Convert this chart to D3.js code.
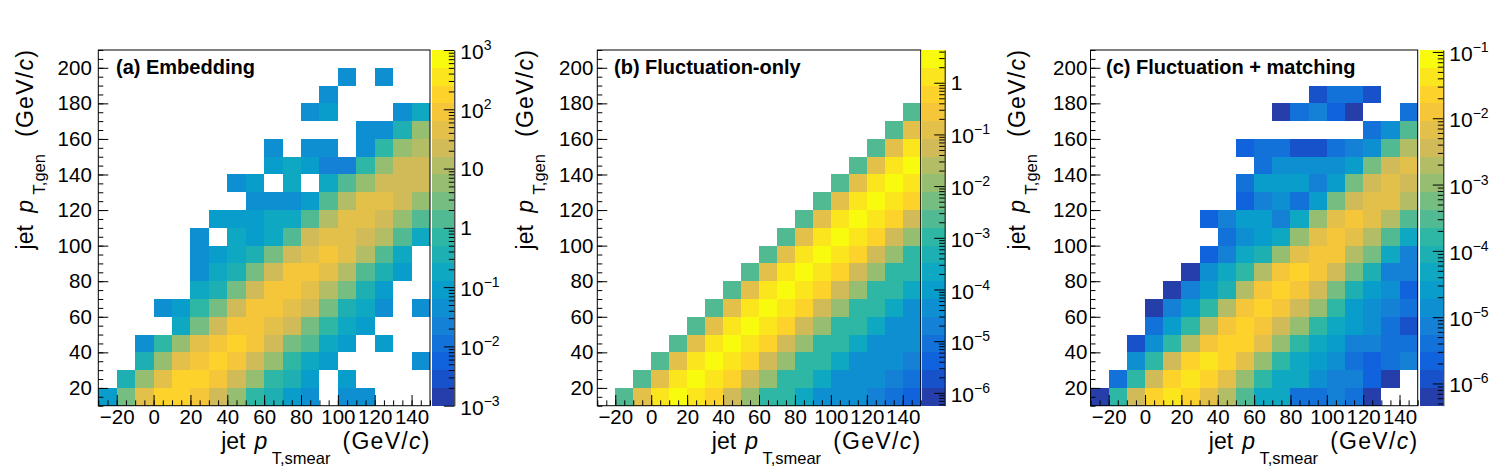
<!DOCTYPE html>
<html>
<head>
<meta charset="utf-8">
<script src="https://cdn.jsdelivr.net/npm/d3@7/dist/d3.min.js"></script>
<style>
html,body{margin:0;padding:0;background:#fff;}
svg{display:block;}
text{font-family:"Liberation Sans",Arial,Helvetica,sans-serif;fill:#000;}
</style>
</head>
<body>
<svg id="chart" width="1498" height="476"></svg>
<script>
// ---------- data ----------
const binWidth = 10;
// lower edges of x bins (jet pT,smear) and y bins (jet pT,gen), rows listed top -> bottom
const xLow = [-30,-20,-10,0,10,20,30,40,50,60,70,80,90,100,110,120,130,140];
const yLow = [200,190,180,170,160,150,140,130,120,110,100,90,80,70,60,50,40,30,20,10];
const xTickLabels = [-20,0,20,40,60,80,100,120,140];
const yTickLabels = [20,40,60,80,100,120,140,160,180,200];
const panelTitles = ["(a) Embedding","(b) Fluctuation-only","(c) Fluctuation + matching"];
const zRangeA = [1e-3, 1e3];
const zRangeB = [5.65e-7, 4.3];
const zRangeC = [4.62e-7, 0.107];
const zTicksA = [1e-3,1e-2,1e-1,1,10,1e2,1e3];
const zTicksB = [1e-6,1e-5,1e-4,1e-3,1e-2,1e-1,1];
const zTicksC = [1e-6,1e-5,1e-4,1e-3,1e-2,1e-1];

const embedding = [
 [0,0,0,0,0,0,0,0,0,0,0,0,0,0,0,0,0,0],
 [0,0,0,0,0,0,0,0,0,0,0,0,0,0.045,0,0.045,0,0],
 [0,0,0,0,0,0,0,0,0,0,0,0,0.045,0,0,0,0,0],
 [0,0,0,0,0,0,0,0,0,0,0,0.045,0.089,0,0,0,0.045,0.18],
 [0,0,0,0,0,0,0,0,0,0,0,0,0,0,0.045,0.045,0.35,5.6],
 [0,0,0,0,0,0,0,0,0,0.045,0,0.045,0.045,0,0.045,0.71,5.6,11],
 [0,0,0,0,0,0,0,0,0,0.089,0.18,0.089,0.022,0.022,0.71,5.6,22,22],
 [0,0,0,0,0,0,0,0.045,0.089,0,0.18,0,0.18,1.4,5.6,22,22,22],
 [0,0,0,0,0,0,0,0,0.045,0.045,0.045,0.089,1.4,11,45,45,22,5.6],
 [0,0,0,0,0,0,0.089,0.089,0.089,0.18,0.18,1.4,11,45,45,22,5.6,1.4],
 [0,0,0,0,0,0.045,0,0.18,0.089,0.18,1.4,22,45,45,22,11,1.4,0.18],
 [0,0,0,0,0,0.045,0.089,0.18,0.35,2.8,22,45,89,45,11,1.4,0.18,0],
 [0,0,0,0,0,0.045,0.18,0.35,2.8,22,89,89,45,11,1.4,0.35,0.089,0],
 [0,0,0,0,0,0.18,0.35,2.8,22,89,89,45,11,2.8,0.35,0.089,0,0],
 [0,0,0,0.045,0.089,0.71,2.8,22,89,89,45,22,2.8,0.35,0.18,0.045,0,0.045],
 [0,0,0,0,0.18,2.8,22,89,89,45,22,2.8,0.71,0.18,0.089,0,0,0],
 [0,0,0.045,0.71,5.6,45,89,180,89,22,2.8,1.4,0.18,0.089,0,0.089,0,0],
 [0,0,0.35,5.6,45,89,180,89,22,5.6,0.71,0.18,0.089,0,0,0,0,0.045],
 [0,0.35,5.6,45,180,180,89,22,5.6,0.71,0.35,0.089,0,0.089,0,0,0,0],
 [0.089,2.8,45,180,180,89,22,5.6,0.71,0.35,0.089,0.045,0,0.045,0.045,0,0,0]
];

const fluctOnly = [
 [0,0,0,0,0,0,0,0,0,0,0,0,0,0,0,0,0,0],
 [0,0,0,0,0,0,0,0,0,0,0,0,0,0,0,0,0,0],
 [0,0,0,0,0,0,0,0,0,0,0,0,0,0,0,0,0,0],
 [0,0,0,0,0,0,0,0,0,0,0,0,0,0,0,0,0,2.3e-3],
 [0,0,0,0,0,0,0,0,0,0,0,0,0,0,0,0,2.3e-3,0.12],
 [0,0,0,0,0,0,0,0,0,0,0,0,0,0,0,2.3e-3,0.12,1.3],
 [0,0,0,0,0,0,0,0,0,0,0,0,0,0,2.3e-3,0.12,1.3,2.9],
 [0,0,0,0,0,0,0,0,0,0,0,0,0,2.3e-3,0.12,1.3,2.9,1.3],
 [0,0,0,0,0,0,0,0,0,0,0,0,2.3e-3,0.12,1.3,2.9,1.3,0.59],
 [0,0,0,0,0,0,0,0,0,0,0,2.3e-3,0.12,1.3,2.9,1.3,0.59,0.055],
 [0,0,0,0,0,0,0,0,0,0,2.3e-3,0.12,1.3,2.9,1.3,0.59,0.055,0.011],
 [0,0,0,0,0,0,0,0,0,2.3e-3,0.12,1.3,2.9,1.3,0.59,0.055,0.011,1.0e-3],
 [0,0,0,0,0,0,0,0,2.3e-3,0.12,1.3,2.9,1.3,0.59,0.055,0.011,1.0e-3,1.0e-3],
 [0,0,0,0,0,0,0,2.3e-3,0.12,1.3,2.9,1.3,0.59,0.055,0.011,1.0e-3,1.0e-3,2.1e-4],
 [0,0,0,0,0,0,2.3e-3,0.12,1.3,2.9,1.3,0.59,0.055,0.011,1.0e-3,1.0e-3,2.1e-4,4.4e-5],
 [0,0,0,0,0,2.3e-3,0.12,1.3,2.9,1.3,0.59,0.055,0.011,1.0e-3,1.0e-3,2.1e-4,4.4e-5,4.4e-5],
 [0,0,0,0,2.3e-3,0.12,1.3,2.9,1.3,0.59,0.055,0.011,1.0e-3,1.0e-3,2.1e-4,4.4e-5,4.4e-5,4.4e-5],
 [0,0,0,2.3e-3,0.12,1.3,2.9,1.3,0.59,0.055,0.011,1.0e-3,1.0e-3,2.1e-4,4.4e-5,4.4e-5,4.4e-5,2.0e-5],
 [0,0,2.3e-3,0.12,1.3,2.9,1.3,0.59,0.055,0.011,1.0e-3,1.0e-3,2.1e-4,4.4e-5,4.4e-5,4.4e-5,2.0e-5,9.0e-6],
 [0,2.3e-3,0.12,1.3,2.9,1.3,0.59,0.055,0.011,1.0e-3,1.0e-3,2.1e-4,4.4e-5,4.4e-5,4.4e-5,2.0e-5,9.0e-6,4.1e-6]
];

const fluctMatch = [
 [0,0,0,0,0,0,0,0,0,0,0,0,0,0,0,0,0,0],
 [0,0,0,0,0,0,0,0,0,0,0,0,0,0,0,0,0,0],
 [0,0,0,0,0,0,0,0,0,0,0,0,1.2e-6,4.0e-6,4.0e-6,1.2e-6,0,0],
 [0,0,0,0,0,0,0,0,0,0,6.3e-7,4.0e-6,7.4e-6,2.2e-6,6.3e-7,0,0,4.0e-6],
 [0,0,0,0,0,0,0,0,0,0,0,0,0,0,0,4.0e-6,1.4e-5,3.0e-4],
 [0,0,0,0,0,0,0,0,2.2e-6,4.0e-6,4.0e-6,1.2e-6,1.2e-6,4.0e-6,7.4e-6,1.4e-5,3.0e-4,1.9e-3],
 [0,0,0,0,0,0,0,0,0,4.0e-6,1.4e-5,1.4e-5,1.4e-5,1.4e-5,2.6e-5,5.6e-4,3.6e-3,6.6e-3],
 [0,0,0,0,0,0,0,0,4.0e-6,2.6e-5,2.6e-5,2.6e-5,7.4e-6,2.6e-5,5.6e-4,3.6e-3,6.6e-3,3.6e-3],
 [0,0,0,0,0,0,0,0,2.2e-6,7.4e-6,1.4e-5,4.0e-6,2.6e-5,5.6e-4,3.6e-3,6.6e-3,6.6e-3,1.9e-3],
 [0,0,0,0,0,0,2.2e-6,7.4e-6,2.6e-5,2.6e-5,7.4e-6,4.7e-5,1.0e-3,6.6e-3,1.2e-2,6.6e-3,1.9e-3,3.0e-4],
 [0,0,0,0,0,0,0,4.0e-6,1.4e-5,2.6e-5,4.7e-5,1.0e-3,6.6e-3,1.2e-2,6.6e-3,1.9e-3,3.0e-4,4.7e-5],
 [0,0,0,0,0,0,2.2e-6,7.4e-6,4.7e-5,8.8e-5,1.0e-3,6.6e-3,1.2e-2,1.2e-2,1.9e-3,5.6e-4,4.7e-5,7.4e-6],
 [0,0,0,0,0,6.3e-7,1.4e-5,4.7e-5,1.6e-4,1.9e-3,1.2e-2,2.3e-2,1.2e-2,3.6e-3,5.6e-4,8.8e-5,7.4e-6,7.4e-6],
 [0,0,0,0,6.3e-7,7.4e-6,2.6e-5,8.8e-5,1.9e-3,1.2e-2,2.3e-2,1.2e-2,3.6e-3,5.6e-4,8.8e-5,2.6e-5,1.4e-5,2.2e-6],
 [0,0,0,6.3e-7,7.4e-6,2.6e-5,1.6e-4,1.9e-3,1.2e-2,2.3e-2,1.2e-2,3.6e-3,1.0e-3,1.6e-4,2.6e-5,1.4e-5,7.4e-6,4.0e-6],
 [0,0,0,4.0e-6,2.6e-5,1.6e-4,1.9e-3,1.2e-2,2.3e-2,1.2e-2,3.6e-3,1.0e-3,1.6e-4,4.7e-5,2.6e-5,1.4e-5,4.0e-6,1.2e-6],
 [0,0,1.2e-6,1.4e-5,1.6e-4,1.9e-3,1.2e-2,2.3e-2,2.3e-2,6.6e-3,1.0e-3,1.6e-4,4.7e-5,2.6e-5,7.4e-6,7.4e-6,4.0e-6,4.0e-6],
 [0,0,1.4e-5,1.6e-4,3.6e-3,2.3e-2,4.2e-2,2.3e-2,6.6e-3,1.0e-3,1.6e-4,4.7e-5,2.6e-5,1.4e-5,4.0e-6,2.2e-6,4.0e-6,7.4e-6],
 [0,4.0e-6,1.6e-4,3.6e-3,2.3e-2,4.2e-2,2.3e-2,6.6e-3,1.0e-3,1.6e-4,4.7e-5,4.7e-5,1.4e-5,7.4e-6,7.4e-6,2.2e-6,6.3e-7,0],
 [6.3e-7,1.6e-4,3.6e-3,2.3e-2,4.2e-2,2.3e-2,6.6e-3,1.9e-3,3.0e-4,4.7e-5,4.7e-5,4.0e-6,4.0e-6,7.4e-6,4.0e-6,6.3e-7,0,0]
];

// ---------- layout ----------
const T = 50, B = 405.7;
const panels = [
  {data: embedding,  title: panelTitles[0], zDomain: zRangeA, zTicks: zTicksA,
   L: 98.3,  R: 430.0,  cbL: 431.7, cbR: 454.3,  yTitleX: 32.5,   yPad: 6.5, titleX: 116},
  {data: fluctOnly,  title: panelTitles[1], zDomain: zRangeB, zTicks: zTicksB,
   L: 597.3, R: 920.7,  cbL: 922.0, cbR: 944.7,  yTitleX: 532.5,  yPad: 4.0, titleX: 614},
  {data: fluctMatch, title: panelTitles[2], zDomain: zRangeC, zTicks: zTicksC,
   L: 1090.5, R: 1417.7, cbL: 1420.0, cbR: 1443.3, yTitleX: 1024.5, yPad: 3.2, titleX: 1106}
];

// ROOT kBird palette, 20 contour levels
const birdStops = [0,0.125,0.25,0.375,0.5,0.625,0.75,0.875,1];
const birdRGB = [[0.2082,0.1664,0.5293],[0.0592,0.3599,0.8684],[0.0780,0.5041,0.8385],
  [0.0232,0.6419,0.7914],[0.1802,0.7178,0.6425],[0.5301,0.7492,0.4662],
  [0.8186,0.7328,0.3499],[0.9956,0.7862,0.1968],[0.9764,0.9832,0.0539]];
const grad = d3.scaleLinear().domain(birdStops)
  .range(birdRGB.map(c => d3.rgb(c[0]*255, c[1]*255, c[2]*255).toString()))
  .interpolate(d3.interpolateRgb);
const NB = 20;
const bandColor = i => grad((i + 0.99) / NB);

const svg = d3.select("#chart");
const labelFont = 20.5;
const MINUS = "\u2212";

function styleAxis(sel) {
  sel.attr("font-family", null).attr("font-size", labelFont + "px");
  sel.selectAll("line").attr("stroke", "#000").attr("stroke-width", 1);
}

panels.forEach(p => {
  const g = svg.append("g");
  const x = d3.scaleLinear().domain([-30, 150]).range([p.L, p.R]);
  const y = d3.scaleLinear().domain([10, 210]).range([B, T]);
  const z = d3.scaleLog().domain(p.zDomain).range([B, T]);
  const lo = Math.log10(p.zDomain[0]), hi = Math.log10(p.zDomain[1]);
  const band = v => Math.max(0, Math.min(NB - 1, Math.floor((Math.log10(v) - lo) / (hi - lo) * NB)));

  // cells
  const cells = [];
  p.data.forEach((row, ri) => row.forEach((v, ci) => {
    if (v > 0) cells.push({x0: xLow[ci], y0: yLow[ri], v});
  }));
  g.append("g").attr("shape-rendering", "crispEdges")
    .selectAll("rect").data(cells).join("rect")
    .attr("x", d => x(d.x0))
    .attr("width", d => x(d.x0 + binWidth) - x(d.x0))
    .attr("y", d => y(d.y0 + binWidth))
    .attr("height", d => y(d.y0) - y(d.y0 + binWidth))
    .attr("fill", d => bandColor(band(d.v)));

  // x axis (ticks inside)
  const xMinor = d3.range(-30, 150.001, 5);
  g.append("g").attr("transform", `translate(0,${B})`)
    .call(d3.axisBottom(x).tickValues(xMinor).tickSize(-5.35).tickFormat(""))
    .call(s => s.select(".domain").remove()).call(styleAxis);
  g.append("g").attr("transform", `translate(0,${B})`)
    .call(d3.axisBottom(x).tickValues(xTickLabels).tickSize(-10.7).tickPadding(3.8))
    .call(s => s.select(".domain").remove()).call(styleAxis);

  // y axis
  const yMinor = d3.range(10, 210.001, 5);
  g.append("g").attr("transform", `translate(${p.L},0)`)
    .call(d3.axisLeft(y).tickValues(yMinor).tickSize(-5).tickFormat(""))
    .call(s => s.select(".domain").remove()).call(styleAxis);
  g.append("g").attr("transform", `translate(${p.L},0)`)
    .call(d3.axisLeft(y).tickValues(yTickLabels).tickSize(-10).tickPadding(p.yPad))
    .call(s => s.select(".domain").remove()).call(styleAxis);

  // frame
  g.append("rect").attr("x", p.L).attr("y", T).attr("width", p.R - p.L).attr("height", B - T)
    .attr("fill", "none").attr("stroke", "#000").attr("stroke-width", 1);

  // colour bar
  const bands = d3.range(NB).map(i => ({i,
    z0: Math.pow(10, lo + (hi - lo) * i / NB),
    z1: Math.pow(10, lo + (hi - lo) * (i + 1) / NB)}));
  g.append("g").attr("shape-rendering", "crispEdges")
    .selectAll("rect").data(bands).join("rect")
    .attr("x", p.cbL).attr("width", p.cbR - p.cbL)
    .attr("y", d => z(d.z1)).attr("height", d => z(d.z0) - z(d.z1))
    .attr("fill", d => bandColor(d.i));

  const zMinor = [];
  for (let e = Math.floor(lo); e <= Math.ceil(hi); e++)
    for (let m = 2; m <= 9; m++) {
      const v = m * Math.pow(10, e);
      if (v >= p.zDomain[0] && v <= p.zDomain[1]) zMinor.push(v);
    }
  g.append("g").attr("transform", `translate(${p.cbR},0)`)
    .call(d3.axisRight(z).tickValues(zMinor).tickSize(-5.5).tickSizeOuter(0).tickFormat(""))
    .call(styleAxis)
    .call(s => s.select(".domain").attr("stroke", "#000").attr("stroke-width", 1));
  g.append("g").attr("transform", `translate(${p.cbR},0)`)
    .call(d3.axisRight(z).tickValues(p.zTicks).tickSize(-10.5).tickFormat(""))
    .call(s => s.select(".domain").remove()).call(styleAxis);

  // colour-bar labels with superscripts
  g.selectAll(null).data(p.zTicks).join("text")
    .attr("x", p.cbR + 6)
    .attr("font-size", "21px")
    .each(function(v) {
      const e = Math.round(Math.log10(v));
      const t = d3.select(this);
      if (e === 0) { t.attr("y", z(v) + 7.6).text("1"); return; }
      if (e === 1) { t.attr("y", z(v) + 7.6).text("10"); return; }
      t.attr("y", z(v) + 9);
      t.append("tspan").text("10");
      t.append("tspan").attr("dy", -9).attr("font-size", "14px")
        .text((e < 0 ? MINUS : "") + Math.abs(e));
    });

  // panel title
  g.append("text").attr("x", p.titleX).attr("y", 74)
    .attr("font-size", "20px").attr("font-weight", "bold").text(p.title);

  // x-axis title
  const xt = g.append("text").attr("x", p.R - 0.5).attr("y", 448.5)
    .attr("text-anchor", "end").attr("font-size", "23px");
  xt.append("tspan").text("jet ");
  xt.append("tspan").attr("dx", 2.6).attr("font-style", "italic").text("p");
  xt.append("tspan").attr("dx", 4.5).attr("dy", 15.5).attr("font-size", "16.5px").text("T,smear");
  xt.append("tspan").attr("dx", 12).attr("dy", -15.5).attr("letter-spacing", 1.3).text("(GeV/");
  xt.append("tspan").attr("font-style", "italic").attr("letter-spacing", 1.3).text("c");
  xt.append("tspan").text(")");

  // y-axis title
  const yt = g.append("text").attr("transform", `translate(${p.yTitleX},${T}) rotate(-90)`)
    .attr("text-anchor", "end").attr("font-size", "23px");
  yt.append("tspan").text("jet ");
  yt.append("tspan").attr("dx", 6).attr("font-style", "italic").text("p");
  yt.append("tspan").attr("dx", 5.5).attr("dy", 12.5).attr("font-size", "16.5px").text("T,gen");
  yt.append("tspan").attr("dx", 17).attr("dy", -12.5).attr("letter-spacing", 1.3).text("(GeV/");
  yt.append("tspan").attr("font-style", "italic").attr("letter-spacing", 1.3).text("c");
  yt.append("tspan").text(")");
});
</script>
</body>
</html>
